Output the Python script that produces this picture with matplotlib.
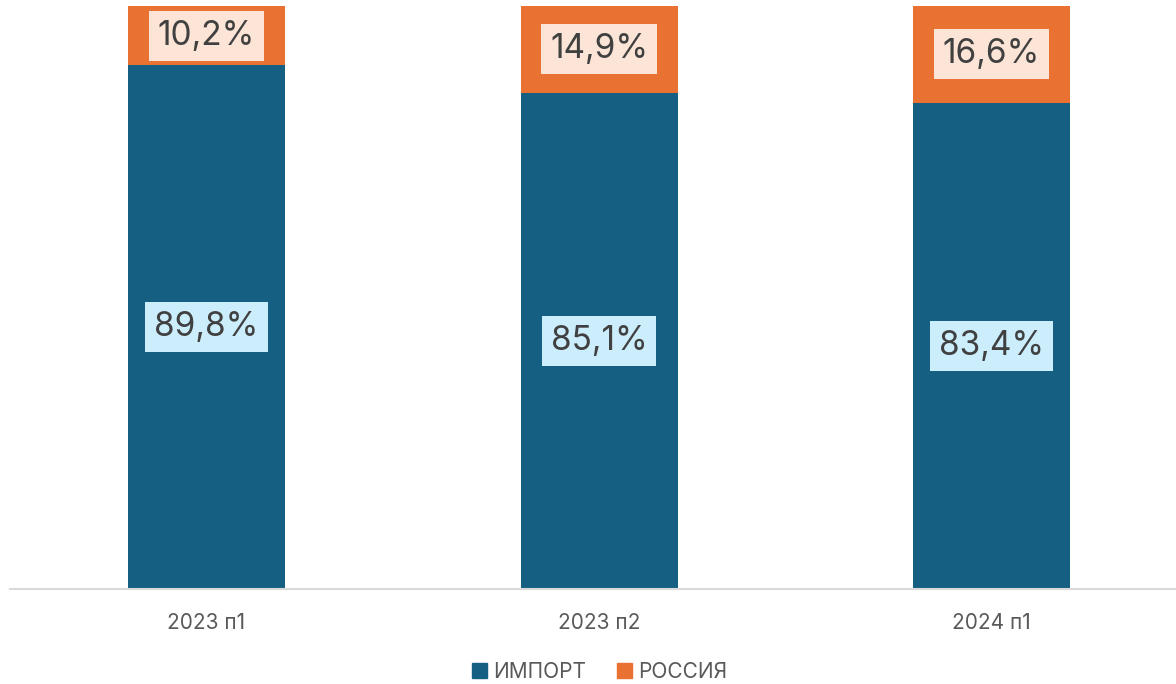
import matplotlib
matplotlib.use("Agg")
import matplotlib.pyplot as plt
from matplotlib.patches import Patch

categories = ["2023 п1", "2023 п2", "2024 п1"]
import_vals = [89.8, 85.1, 83.4]
russia_vals = [10.2, 14.9, 16.6]
series_names = ["ИМПОРТ", "РОССИЯ"]

c_blue = "#155F82"
c_orange = "#E97132"
box_blue = "#CCEEFC"
box_orange = "#FCE4D6"
txt = "#404040"

plt.rcParams['font.family'] = ['Inter', 'DejaVu Sans']

fig = plt.figure(figsize=(11.76, 6.84), dpi=100)
ax = fig.add_axes([10/1176, 95/684, 1166/1176, 583/684])

x = list(range(len(categories)))
w = 0.4
ax.bar(x, import_vals, w, color=c_blue)
ax.bar(x, russia_vals, w, bottom=import_vals, color=c_orange)

def fmt(v):
    return f"{v:.1f}".replace(".", ",") + "%"

for xi, iv, rv in zip(x, import_vals, russia_vals):
    ax.text(xi, iv / 2, fmt(iv), ha='center', va='center', fontsize=24, color=txt,
            bbox=dict(boxstyle='square,pad=0.27', fc=box_blue, ec='none'))
    ax.text(xi, iv + rv / 2, fmt(rv), ha='center', va='center', fontsize=24, color=txt,
            bbox=dict(boxstyle='square,pad=0.27', fc=box_orange, ec='none'))

ax.set_xlim(-0.5006, 2.470)
ax.set_ylim(0, 100)
for s in ['top', 'right', 'left']:
    ax.spines[s].set_visible(False)
ax.spines['bottom'].set_color('#D9D9D9')
ax.spines['bottom'].set_linewidth(1.5)
ax.set_yticks([])
ax.set_xticks(x)
ax.set_xticklabels(categories, fontsize=15, color='#595959')
ax.tick_params(axis='x', length=0, pad=17)

handles = [Patch(color=c_blue, label=series_names[0]),
           Patch(color=c_orange, label=series_names[1])]
leg = fig.legend(handles=handles, loc='center', bbox_to_anchor=(0.51, 0.018), ncol=2,
                 frameon=False, fontsize=15, handlelength=0.7, handleheight=0.7,
                 handletextpad=0.3, columnspacing=1.5)
for t in leg.get_texts():
    t.set_color('#595959')

fig.savefig("out.png", dpi=100)
